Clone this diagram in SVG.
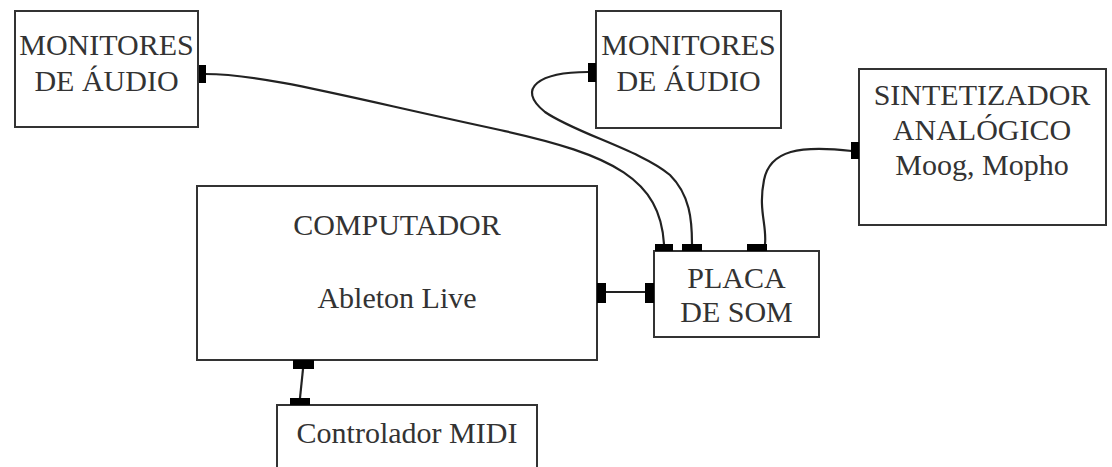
<svg xmlns="http://www.w3.org/2000/svg" width="1112" height="467" viewBox="0 0 1112 467">
<style>
.box{fill:#fff;stroke:#333;stroke-width:2}
.t{font-family:'Liberation Serif','Tinos','Noto Serif','DejaVu Serif','Times New Roman',Times,serif;font-size:30px;fill:#333;text-anchor:middle}
.w{fill:none;stroke:#222;stroke-width:2.2}
.p{fill:#000}
</style>
<rect width="1112" height="467" fill="#fff"/>
<g id="connectors">
<path class="w" d="M205,74 C265,74 350,98 500,130 C615,155 660,180 664,244"/>
<path class="w" d="M588,72 C540,72 515,88 545,112 C575,133 640,150 670,175 C690,195 692,220 692,244"/>
<path class="w" d="M852,151 C800,145 770,150 764,180 C758,210 767,225 765,244"/>
<path class="w" d="M606,292 L645,292"/>
<path class="w" d="M303,369 L300,398"/>
</g>
<g id="monitores1">
<rect class="box" x="15" y="11" width="183" height="116"/>
<text class="t" x="106.5" y="55">MONITORES</text>
<text class="t" x="106.5" y="91">DE ÁUDIO</text>
<rect class="p" x="199" y="65" width="7" height="18"/>
</g>
<g id="monitores2">
<rect class="box" x="596" y="11" width="185" height="117"/>
<text class="t" x="688.5" y="55">MONITORES</text>
<text class="t" x="688.5" y="91">DE ÁUDIO</text>
<rect class="p" x="588" y="63" width="8" height="19"/>
</g>
<g id="sintetizador">
<rect class="box" x="859" y="69" width="247" height="156"/>
<text class="t" x="982" y="105">SINTETIZADOR</text>
<text class="t" x="982" y="140">ANALÓGICO</text>
<text class="t" x="982" y="175">Moog, Mopho</text>
<rect class="p" x="851" y="142" width="8" height="17"/>
</g>
<g id="computador">
<rect class="box" x="197" y="186" width="400" height="174"/>
<text class="t" x="397" y="235">COMPUTADOR</text>
<text class="t" x="397" y="308">Ableton Live</text>
<rect class="p" x="597" y="283" width="9" height="20"/>
<rect class="p" x="293" y="360" width="21" height="9"/>
</g>
<g id="placa">
<rect class="box" x="654" y="251" width="165" height="86"/>
<text class="t" x="736.5" y="288">PLACA</text>
<text class="t" x="736.5" y="322">DE SOM</text>
<rect class="p" x="645" y="283" width="9" height="20"/>
<rect class="p" x="655" y="244" width="18" height="7"/>
<rect class="p" x="682" y="244" width="20" height="7"/>
<rect class="p" x="747" y="244" width="20" height="7"/>
</g>
<g id="controlador">
<rect class="box" x="277" y="405" width="260" height="70"/>
<text class="t" x="407" y="443">Controlador MIDI</text>
<rect class="p" x="290" y="398" width="20" height="7"/>
</g>
</svg>
